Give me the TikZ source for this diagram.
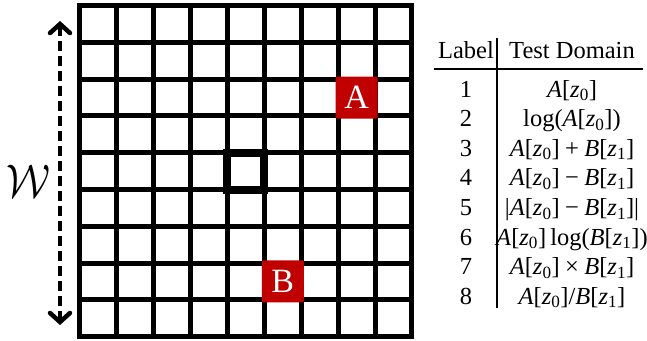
\documentclass[tikz,border=0pt]{standalone}
\usepackage{fontspec}
\setmainfont{Liberation Serif}
\usepackage{tikz}
\usetikzlibrary{positioning, arrows.meta}
\definecolor{cellred}{HTML}{C00000}
\newcommand{\Az}{\textit{A}[\textit{z}\textsubscript{0}]}
\newcommand{\Bz}{\textit{B}[\textit{z}\textsubscript{1}]}
\newcommand{\bop}[1]{\hspace{0.22em}#1\hspace{0.22em}}

\begin{document}
\begin{tikzpicture}[
  x=1pt, y=-1pt,
  gridline/.style={line width=5pt, line cap=rect},
  redcell/.style={fill=cellred, rounded corners=1.5pt, minimum size=42pt, inner sep=0pt, text=white, font=\fontsize{34}{34}\selectfont},
  tab/.style={anchor=base, inner sep=0pt, font=\fontsize{24.5}{28}\selectfont}
]
\useasboundingbox (0,0) rectangle (647,340);
% window of 9x9 cells
\foreach \i in {0,...,9} {
  \draw[gridline] ({79.8+36.9*\i},5.5) -- ({79.8+36.9*\i},336.5);
  \draw[gridline] (79.8,{5.5+36.8*\i}) -- (411.9,{5.5+36.8*\i});
}
% centre cell
\draw[line width=8pt] (227.4,152.7) rectangle (264.3,189.5);
% the two sampled cells
\node[redcell] (A) at (356.6,97.5) {A};
\node[redcell] (B) at (282.8,281.3) {B};
% window size
\coordinate (wtop) at (60,21);
\coordinate (wbot) at (60,325);
\draw[line width=4.5pt, dash pattern=on 10pt off 5pt,
  {Straight Barb[length=9pt, width=20pt, line cap=round]}-{Straight Barb[length=9pt, width=20pt, line cap=round]}]
  (wtop) -- (wbot);
\node[font=\fontsize{24.88}{26}\selectfont, inner sep=0pt, xscale=1.65, yscale=1.9] (wlab) at (28,181) {$\mathcal{W}$};
% table of test domains
\node[tab] (lh) at (466,58) {Label};
\node[tab] (dh) at (572,58) {Test Domain};
\foreach \i/\expr in {1/{\Az}, 2/{log(\Az)}, 3/{\Az\bop{+}\Bz}, 4/{\Az\bop{−}\Bz},
    5/{|\Az\bop{−}\Bz|}, 6/{\Az\,log(\Bz)}, 7/{\Az\bop{×}\Bz}, 8/{\Az/\Bz}} {
  \node[tab] (l\i) at (466,{97+29.6*(\i-1)}) {\i};
  \node[tab] (d\i) at (572,{97+29.6*(\i-1)}) {\expr};
}
\draw[line width=1.6pt] (434,69) -- (643,69);
\draw[line width=2.2pt] (497,38) -- (497,308);
\end{tikzpicture}
\end{document}
